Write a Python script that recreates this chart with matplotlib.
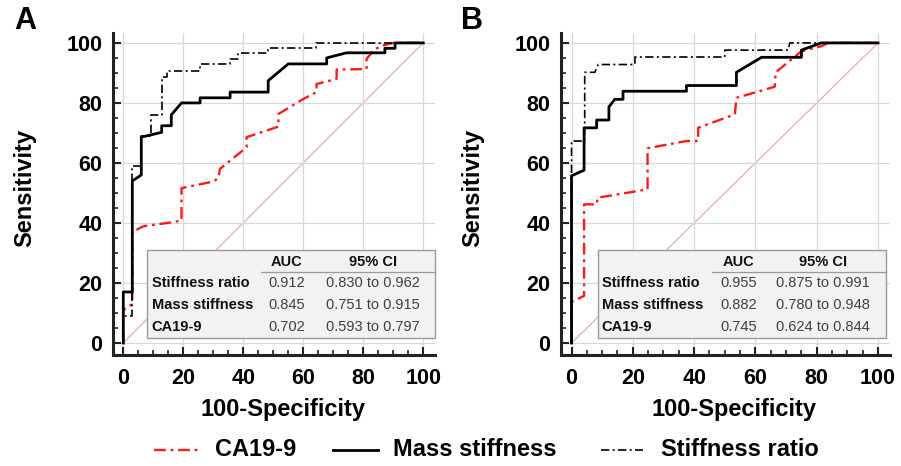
import matplotlib
matplotlib.use("Agg")
import matplotlib.pyplot as plt
from matplotlib.patches import Rectangle
from matplotlib.lines import Line2D
from matplotlib.ticker import MultipleLocator

plt.rcParams['font.family'] = ['Liberation Sans', 'DejaVu Sans']

# ---------------- data ----------------
# Panel A ROC corner points (100-Specificity, Sensitivity)
sr_A_x = [0, 0, 3, 3, 6, 6, 9.4, 9.4, 12.8, 12.8, 14.5, 14.5, 25.6, 25.6, 35.6, 35.6, 38.3, 38.3, 48.3, 48.3, 64.4, 64.4, 100]
sr_A_y = [0, 9, 9, 59, 59, 69, 69, 76, 76, 88.6, 88.6, 90.8, 90.8, 93, 93, 94.7, 94.7, 96.7, 96.7, 98.2, 98.2, 100, 100]

ms_A_x = [0, 0, 3, 3, 6, 6, 12.8, 12.8, 16, 16, 19.4, 25.6, 25.6, 35.6, 35.6, 48.3, 48.3, 55, 67.8, 67.8, 74.4, 87.2, 87.2, 90.6, 90.6, 100]
ms_A_y = [0, 17, 17, 54, 56, 68.6, 70.2, 72.4, 72.4, 76, 80, 80, 81.7, 81.7, 83.6, 83.6, 87.4, 93, 93, 95, 96.7, 96.7, 98.2, 98.2, 100, 100]

ca_A_x = [0, 0, 3, 3, 6.7, 16.1, 19.4, 19.4, 30, 31.7, 32.2, 41.1, 41.1, 51.7, 51.7, 60, 64.4, 64.4, 71.1, 71.1, 81.1, 81.1, 83.9, 87.2, 90, 100]
ca_A_y = [0, 11, 13, 37, 38.9, 40.2, 40.8, 51.6, 53.8, 55, 58, 65.2, 68.6, 72.1, 76.3, 81.3, 83.6, 86.3, 88, 91.1, 91.3, 94.7, 98, 99.3, 100, 100]

# Panel B
sr_B_x = [0, 0, 4.3, 4.3, 7.6, 8.7, 20.7, 20.7, 50, 50, 70.7, 71.2, 100]
sr_B_y = [0, 67.3, 67.3, 90.2, 90.2, 92.8, 92.8, 95.3, 95.3, 97.6, 97.6, 100, 100]

ms_B_x = [0, 0, 4.1, 4.1, 8.2, 8.2, 12.2, 12.2, 14.1, 16.8, 16.8, 37.5, 37.5, 53.8, 53.8, 62, 75, 75, 81.5, 100]
ms_B_y = [0, 55.7, 57.6, 71.7, 71.7, 74.3, 74.3, 78.7, 81.2, 81.2, 83.9, 83.9, 85.8, 85.8, 90.2, 95.2, 95.2, 97.6, 100, 100]

ca_B_x = [0, 0, 4.1, 4.1, 8.2, 8.5, 24.8, 24.8, 37.5, 41.3, 41.3, 53.3, 53.8, 66.3, 66.6, 75, 81.5, 83.7, 100]
ca_B_y = [0, 13.7, 15.7, 46.2, 46.2, 48.4, 51.2, 64.9, 67.3, 67.3, 71.7, 76.2, 81.7, 85.4, 90.2, 97.2, 98.9, 100, 100]

row_labels = ["Stiffness ratio", "Mass stiffness", "CA19-9"]
header = ["AUC", "95% CI"]
auc_A = ["0.912", "0.845", "0.702"]
ci_A = ["0.830 to 0.962", "0.751 to 0.915", "0.593 to 0.797"]
auc_B = ["0.955", "0.882", "0.745"]
ci_B = ["0.875 to 0.991", "0.780 to 0.948", "0.624 to 0.844"]

ticks = [0, 20, 40, 60, 80, 100]
panel_letters = ["A", "B"]
legend_labels = ["CA19-9", "Mass stiffness", "Stiffness ratio"]

# ---------------- styles ----------------
RED = "#ff1a1a"
sty_ca = dict(color=RED, lw=1.7, linestyle=(0, (5, 2, 1.2, 2)))
sty_ms = dict(color="black", lw=2.0, linestyle="-")
sty_sr = dict(color="black", lw=1.2, linestyle=(0, (5, 2, 1.2, 2)))

fig = plt.figure(figsize=(9.01, 4.66), dpi=100)
W, H = 901, 466

def make_ax(left_px, right_px, top_px, bottom_px):
    return fig.add_axes([left_px / W, 1 - bottom_px / H,
                         (right_px - left_px) / W, (bottom_px - top_px) / H])

axA = make_ax(113, 435, 33, 355)
axB = make_ax(561, 890, 33, 355)

panels = [
    (axA, 322, sr_A_x, sr_A_y, ms_A_x, ms_A_y, ca_A_x, ca_A_y, auc_A, ci_A, (7.8, 104.0), (9.5, 54.5, 83.3, 46.0)),
    (axB, 329, sr_B_x, sr_B_y, ms_B_x, ms_B_y, ca_B_x, ca_B_y, auc_B, ci_B, (8.7, 102.5), (9.8, 54.4, 82.1, 45.7)),
]

for ax, wpx, srx, sry, msx, msy, cax, cay, auc, ci, (bx0, bx1), (xl, xa, xc, xs) in panels:
    ax.set_xlim(-3.43, 103.9)
    ax.set_ylim(-4.0, 103.3)
    ax.set_xticks(ticks)
    ax.set_yticks(ticks)
    ax.xaxis.set_minor_locator(MultipleLocator(5))
    ax.yaxis.set_minor_locator(MultipleLocator(5))
    ax.grid(True, which="major", color="#d8d8d8", lw=0.9, zorder=0)
    for s in ["top", "right"]:
        ax.spines[s].set_visible(False)
    for s in ["left", "bottom"]:
        ax.spines[s].set_linewidth(2.2)
        ax.spines[s].set_color("#222222")
    ax.tick_params(which="major", direction="in", length=6, width=1.5, color="#222222",
                   labelsize=15.5)
    ax.tick_params(axis="x", which="major", pad=9)
    ax.tick_params(axis="y", which="major", pad=7.5)
    ax.tick_params(which="minor", direction="in", length=3.5, width=1.2, color="#222222")
    for lab in ax.get_xticklabels() + ax.get_yticklabels():
        lab.set_fontweight("bold")
    ax.set_xlabel("100-Specificity", fontsize=17, fontweight="bold")
    ax.xaxis.set_label_coords(0.527, -0.132)
    ax.set_ylabel("Sensitivity", fontsize=17, fontweight="bold")
    ax.yaxis.set_label_coords(-77.0 / wpx, 0.519)

    ax.plot([0, 100], [0, 100], color="#e6a3a3", lw=0.8, zorder=1)
    ax.plot(cax, cay, zorder=3, **sty_ca)
    ax.plot(msx, msy, zorder=4, **sty_ms)
    ax.plot(srx, sry, zorder=4, **sty_sr)

    # inset table
    ax.add_patch(Rectangle((bx0, 1.6), bx1 - bx0, 31.0 - 1.6, facecolor="#f2f2f2",
                           edgecolor="#9a9a9a", lw=1.0, zorder=6, clip_on=False))
    ax.plot([xs, bx1], [23.8, 23.8], color="#9a9a9a", lw=0.9, zorder=7, clip_on=False)
    ax.text(xa, 27.1, header[0], ha="center", va="center", fontsize=10.5,
            fontweight="bold", color="#111111", zorder=8)
    ax.text(xc, 27.1, header[1], ha="center", va="center", fontsize=10.5,
            fontweight="bold", color="#111111", zorder=8)
    rows_y = [19.9, 12.7, 5.4]
    for lbl, a, c, yy in zip(row_labels, auc, ci, rows_y):
        ax.text(xl, yy, lbl, ha="left", va="center", fontsize=10.5,
                fontweight="bold", color="#111111", zorder=8)
        ax.text(xa, yy, a, ha="center", va="center", fontsize=10.5,
                color="#404040", zorder=8)
        ax.text(xc, yy, c, ha="center", va="center", fontsize=10.5,
                color="#404040", zorder=8)

fig.text(14 / W, 1 - 21 / H, panel_letters[0], fontsize=22, fontweight="bold",
         ha="left", va="center")
fig.text(461 / W, 1 - 21 / H, panel_letters[1], fontsize=22, fontweight="bold",
         ha="left", va="center")

# legend (manual placement)
leg_font = dict(size=17, weight="bold")
leg_y = 1 - 450 / H
leg_items = [(sty_ca, 154, 199, 215), (sty_ms, 333, 378, 393), (sty_sr, 601, 643, 661)]
for (sty, x0, x1, tx), lbl in zip(leg_items, legend_labels):
    fig.add_artist(Line2D([x0 / W, x1 / W], [leg_y, leg_y], transform=fig.transFigure, **sty))
    fig.text(tx / W, leg_y, lbl, ha="left", va="center", fontdict=leg_font)

fig.savefig("out.png", dpi=100)
